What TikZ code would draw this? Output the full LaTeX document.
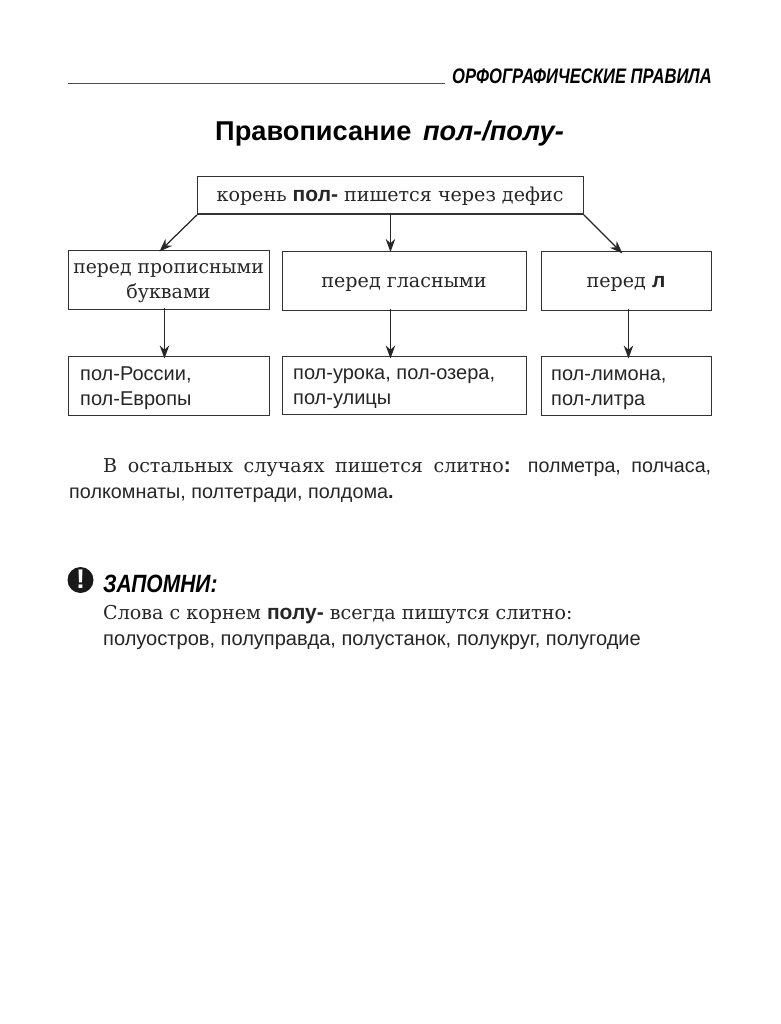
\documentclass[tikz,border=0pt]{standalone}
\usepackage{fontspec}
\setmainfont{DejaVu Serif}
\newfontfamily\sn{Liberation Sans}
\newfontfamily\hand[FakeStretch=0.79]{Liberation Sans}
\newfontfamily\handw[FakeStretch=0.84]{Liberation Sans}
\usetikzlibrary{arrows.meta}
\tikzset{
  bx/.style={draw=black!80,line width=1.4pt,minimum height=0pt,inner sep=0pt,rectangle,anchor=north west},
  ar/.style={draw=black!85,line width=1.25pt,-{Stealth[length=13pt,width=9.5pt]}},
  ser/.style={font=\fontsize{19.1}{24}\selectfont,color=black!85},
  san/.style={font=\sn\fontsize{20}{25}\selectfont,color=black!85},
  lbl/.style={anchor=base west,inner sep=0pt},
}
\newcommand{\bsn}[1]{{\sn\bfseries\fontsize{21}{24}\selectfont #1}}
\begin{document}
\begin{tikzpicture}[x=1pt,y=-1pt]
\useasboundingbox[fill=white] (0,0) rectangle (780,1024);
% header
\coordinate (hl) at (68,83.5);
\coordinate (hr) at (445,83.5);
\draw[line width=1.6pt,black!70] (hl) -- (hr);
\node[lbl] (hd) at (452,84) {\hand\itshape\bfseries\fontsize{21}{21}\selectfont ОРФОГРАФИЧЕСКИЕ ПРАВИЛА};
\node[lbl,anchor=base] (title) at (389.5,141) {\sn\bfseries\fontsize{27.2}{28}\selectfont Правописание\hspace{4pt} \itshape пол-/полу-};
% boxes
\node[bx,minimum width=385.5pt,minimum height=37.5pt] (top) at (197,176) {};
\node[ser,anchor=base] (toptxt) at (390,201.5) {корень \bsn{пол-} пишется через дефис};
\node[bx,minimum width=200.5pt,minimum height=58.5pt] (a) at (68,250) {};
\node[bx,minimum width=243.5pt,minimum height=58.5pt] (b) at (282,251) {};
\node[bx,minimum width=169.5pt,minimum height=58.5pt] (c) at (541,251) {};
\node[ser,anchor=base,font=\fontsize{18.8}{24}\selectfont] (a1) at (168.5,273.5) {перед прописными};
\node[ser,anchor=base] (a2) at (168.5,298.5) {буквами};
\node[ser,anchor=base] (b1) at (404,287.5) {перед гласными};
\node[ser,anchor=base] (c1) at (626,287.5) {перед \bsn{л}};
\node[bx,minimum width=200.5pt,minimum height=58.5pt] (d) at (68,356) {};
\node[bx,minimum width=243.5pt,minimum height=57.5pt] (e) at (282,356) {};
\node[bx,minimum width=169.5pt,minimum height=58.5pt] (f) at (541,356) {};
\node[san,lbl] (d1) at (80,380.5) {пол-России,};
\node[san,lbl] (d2) at (80,405.5) {пол-Европы};
\node[san,lbl] (e1) at (293,379.5) {пол-урока, пол-озера,};
\node[san,lbl] (e2) at (293,404.5) {пол-улицы};
\node[san,lbl] (f1) at (551,380.5) {пол-лимона,};
\node[san,lbl] (f2) at (551,405.5) {пол-литра};
% arrows
\draw[ar] (top.south west) -- ([xshift=-9.5pt,yshift=-1.5pt]a.north);
\draw[ar] ([xshift=0pt]top.south) -- ([xshift=-14pt,yshift=-1pt]b.north);
\draw[ar] (top.south east) -- ([xshift=-4pt,yshift=-2.5pt]c.north);
\draw[ar] ([xshift=-4.5pt,yshift=2pt]a.south) -- ([xshift=-4.5pt,yshift=-2.5pt]d.north);
\draw[ar] ([xshift=-14pt,yshift=2pt]b.south) -- ([xshift=-14pt,yshift=-2.5pt]e.north);
\draw[ar] ([xshift=2pt,yshift=2pt]c.south) -- ([xshift=2pt,yshift=-2.5pt]f.north);
% paragraph
\node[ser,lbl] (p1) at (103,472) {\makebox[608pt][s]{В остальных случаях пишется слитно\bsn{:} {\sn\fontsize{19.7}{24}\selectfont полметра, полчаса,}}};
\node[san,lbl,font=\sn\fontsize{19.8}{24}\selectfont] (p2) at (69,498) {полкомнаты, полтетради, полдома\textbf{.}};
% remember
\node[circle,fill=black!90,minimum size=26pt,inner sep=0pt] (ex) at (80.5,580) {};
\node[anchor=center,inner sep=0pt,text=white] (exm) at (80.5,579.5) {\sn\bfseries\fontsize{27}{27}\selectfont !};
\node[lbl] (zap) at (103,592) {\handw\itshape\bfseries\fontsize{25}{25}\selectfont ЗАПОМНИ:};
\node[ser,lbl] (r1) at (103,619.5) {Слова с корнем \bsn{полу-} всегда пишутся слитно:};
\node[san,lbl,font=\sn\fontsize{20.05}{24}\selectfont] (r2) at (103,645.5) {полуостров, полуправда, полустанок, полукруг, полугодие};
\end{tikzpicture}
\end{document}
